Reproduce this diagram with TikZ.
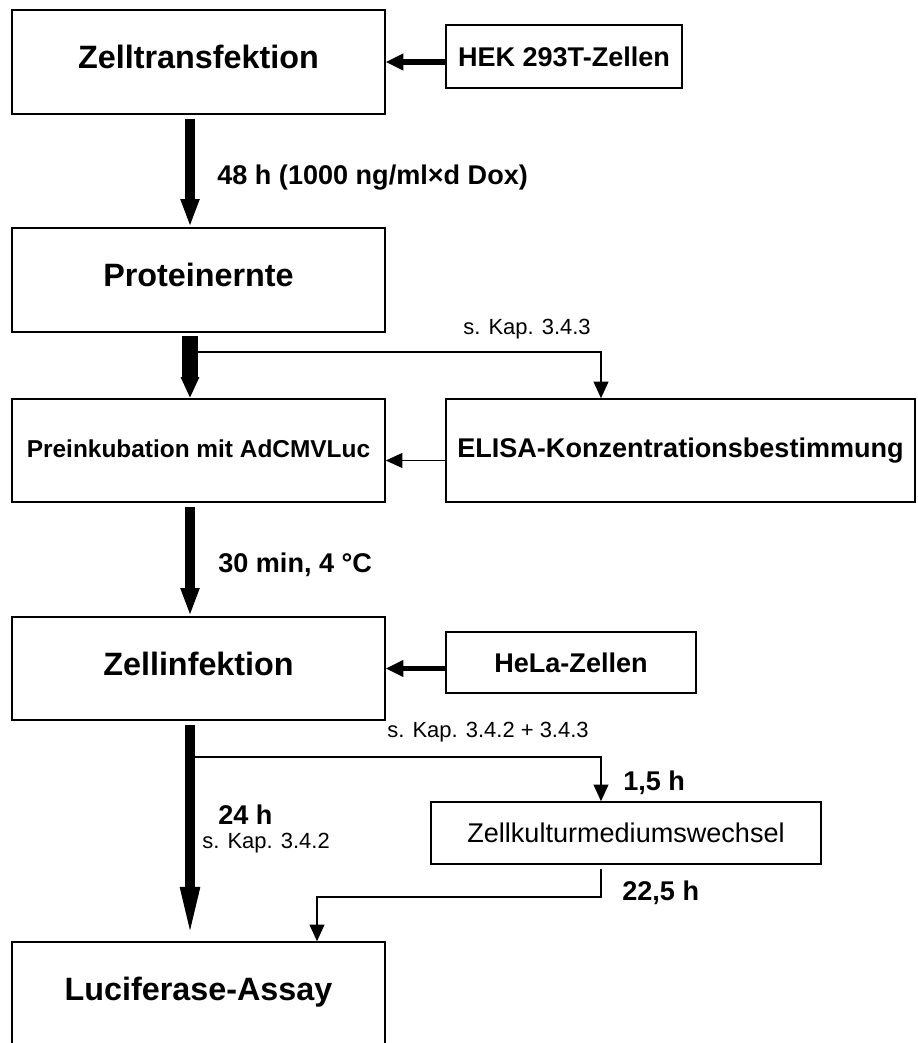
\documentclass[tikz,border=0pt]{standalone}
\usepackage{fontspec}
\setmainfont{Liberation Sans}
\usetikzlibrary{arrows.meta}

\tikzstyle{step-box} = [rectangle, draw, line width=0.9pt, inner sep=0pt,
                        minimum width=7.46cm, minimum height=2.08cm, text depth=0.2cm,
                        font=\fontsize{18.4}{22}\selectfont\bfseries]
\tikzstyle{input-box} = [rectangle, draw, line width=0.9pt, inner sep=0pt,
                         font=\fontsize{15.4}{18}\selectfont\bfseries]
\tikzstyle{flow} = [line width=5.7pt, shorten <=0.08cm,
                    -{Triangle[width=9.7pt,length=16pt]}]
\tikzstyle{feed} = [line width=3pt, -{Triangle[width=9pt,length=10pt]}]
\tikzstyle{branch} = [line width=0.85pt, -{Triangle[width=8.5pt,length=9.5pt]}]
\tikzstyle{time-label} = [anchor=west, inner sep=0pt,
                          font=\fontsize{15.4}{18}\selectfont\bfseries]
\tikzstyle{ref-label} = [inner sep=0pt, font=\fontsize{12.5}{15}\selectfont]

\begin{document}
\begin{tikzpicture}[x=0.02cm, y=-0.02cm]
  \useasboundingbox (0,0) rectangle (917,1043);
  \clip (0,0) rectangle (917,1043);

  %% main column
  \node (trans)  [step-box] at (198.5,62) {Zelltransfektion};
  \node (ernte)  [step-box] at (198.5,280) {Proteinernte};
  \node (prein)  [step-box, minimum height=2.06cm, text depth=0.06cm,
                  font=\fontsize{13.9}{17}\selectfont\bfseries]
                 at (198.5,450.5) {Preinkubation mit AdCMVLuc};
  \node (infekt) [step-box, minimum height=2.06cm] at (198.5,668.5) {Zellinfektion};
  \node (luc)    [step-box] at (198.5,994) {Luciferase-Assay};

  %% side boxes
  \node (hek)   [input-box, minimum width=4.72cm, minimum height=1.26cm]
                at (564,56.5) {HEK 293T-Zellen};
  \node (elisa) [input-box, minimum width=9.38cm, minimum height=2.06cm]
                at (680.5,450.5) {ELISA-Konzentrationsbestimmung};
  \node (hela)  [input-box, minimum width=5cm, minimum height=1.22cm]
                at (571,662.5) {HeLa-Zellen};
  \node (wechsel) [input-box, minimum width=7.8cm, minimum height=1.24cm,
                   font=\fontsize{15.4}{18}\selectfont]
                  at (626,833) {Zellkulturmediumswechsel};

  \coordinate (axis) at (190,0);
  \coordinate (rail) at (601,0);
  \coordinate (split1) at (190,352);
  \coordinate (split2) at (190,757);
  \coordinate (merge) at (317,897);

  %% cells in
  \draw [feed] (hek.west |- trans.east) to (trans.east);
  \draw [feed] (hela.west |- infekt.east) to (infekt.east);

  %% down the column
  \draw [flow] (trans.south -| axis) to (ernte.north -| axis);
  \draw [line width=9.1pt, shorten <=0.06cm, -{Triangle[width=9.7pt,length=12pt]}]
        (ernte.south -| axis) to (prein.north -| axis);
  \draw [flow] (prein.south -| axis) to (infekt.north -| axis);
  \draw [flow, -{Triangle[width=9.7pt,length=31pt]}]
        (infekt.south -| axis) to (luc.north -| axis);

  %% branches
  \draw [branch] (split1) -| (elisa.north -| rail);
  \draw [branch] ([yshift=-0.2cm]elisa.west) to ([yshift=-0.2cm]prein.east);
  \draw [branch] (split2) -| (wechsel.north -| rail);
  \draw [branch, shorten <=0.08cm] (wechsel.south -| rail) |- (merge) to (merge |- luc.north);

  %% labels
  \node (lab48)  [time-label] at (217,178) {48 h (1000 ng/ml×d Dox)};
  \node (lab30)  [time-label] at (218,565) {30 min, 4 °C};
  \node (lab24)  [time-label] at (218,815) {24 h};
  \node (lab15)  [time-label] at (623,783) {1,5 h};
  \node (lab225) [time-label] at (622,893) {22,5 h};
  \node (kap1) [ref-label] at (527,329) {s. Kap. 3.4.3};
  \node (kap2) [ref-label] at (488,732) {s. Kap. 3.4.2 + 3.4.3};
  \node (kap3) [ref-label, anchor=west] at (202,843) {s. Kap. 3.4.2};

\end{tikzpicture}
\end{document}
